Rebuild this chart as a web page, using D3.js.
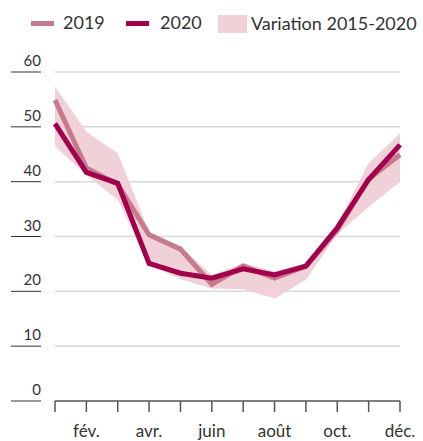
<!DOCTYPE html>
<html>
<head>
<meta charset="utf-8">
<script src="https://cdn.jsdelivr.net/npm/d3@7"></script>
<style>
  body { margin: 0; background: #fff; }
  svg { font-family: Lato, "Open Sans", sans-serif; }
</style>
</head>
<body>
<div id="chart"></div>
<script>
var months = ['janv.', 'fév.', 'mars', 'avr.', 'mai', 'juin', 'juil.', 'août', 'sept.', 'oct.', 'nov.', 'déc.'];
var values2019 = [54.9, 42.5, 39.5, 30.3, 27.7, 21.3, 24.6, 22.4, 24.6, 31.2, 40.5, 44.9];
var values2020 = [50.6, 41.7, 39.7, 25.1, 23.3, 22.4, 24.1, 23.0, 24.6, 31.6, 40.4, 46.7];
var bandHigh = [57.3, 49.1, 45.2, 30.8, 28.1, 23.0, 25.1, 23.6, 25.1, 32.2, 43.4, 48.8];
var bandLow = [46.4, 41.2, 36.7, 25.0, 22.2, 20.5, 20.4, 18.7, 22.1, 30.4, 35.4, 40.0];
var yTicks = [0, 10, 20, 30, 40, 50, 60];

var width = 423, height = 441;
var svg = d3.select('#chart').append('svg')
  .attr('width', width)
  .attr('height', height);

var x = d3.scalePoint()
  .domain(d3.range(12))
  .range([55, 400]);

var y = d3.scaleLinear()
  .domain([0, 60])
  .range([401, 72]);

// gridlines + y labels
var grid = svg.append('g');
grid.selectAll('line.grid')
  .data(yTicks.filter(function(d) { return d > 0; }))
  .enter().append('line')
    .attr('x1', 55).attr('x2', 400)
    .attr('y1', function(d) { return y(d); })
    .attr('y2', function(d) { return y(d); })
    .style('stroke', '#d9d9d9')
    .style('stroke-width', 1.5);

grid.selectAll('line.tick')
  .data(yTicks)
  .enter().append('line')
    .attr('x1', 11).attr('x2', 41)
    .attr('y1', function(d) { return y(d); })
    .attr('y2', function(d) { return y(d); })
    .style('stroke', '#333')
    .style('stroke-width', 1);

grid.selectAll('text')
  .data(yTicks)
  .enter().append('text')
    .attr('x', 41)
    .attr('y', function(d) { return y(d) - 6; })
    .attr('text-anchor', 'end')
    .style('font-size', '15px')
    .style('fill', '#333')
    .text(function(d) { return d; });

// variation band
var area = d3.area()
  .x(function(d, i) { return x(i); })
  .y0(function(d, i) { return y(bandLow[i]); })
  .y1(function(d) { return y(d); });

svg.append('path')
  .datum(bandHigh)
  .attr('d', area)
  .style('fill', '#f0d1d7');

var line = d3.line()
  .x(function(d, i) { return x(i); })
  .y(function(d) { return y(d); });

svg.append('path')
  .datum(values2019)
  .attr('d', line)
  .style('fill', 'none')
  .style('stroke', '#c87a8d')
  .style('stroke-width', 5)
  .style('stroke-linejoin', 'miter');

svg.append('path')
  .datum(values2020)
  .attr('d', line)
  .style('fill', 'none')
  .style('stroke', '#a2004c')
  .style('stroke-width', 5)
  .style('stroke-linejoin', 'miter');

// x axis
var xAxis = svg.append('g');
xAxis.append('line')
  .attr('x1', 55).attr('x2', 400)
  .attr('y1', y(0)).attr('y2', y(0))
  .style('stroke', '#555')
  .style('stroke-width', 1.5);

xAxis.selectAll('line.tick')
  .data(d3.range(12))
  .enter().append('line')
    .attr('x1', function(d) { return x(d); })
    .attr('x2', function(d) { return x(d); })
    .attr('y1', y(0)).attr('y2', y(0) + 11)
    .style('stroke', '#555')
    .style('stroke-width', 1.5);

xAxis.selectAll('text')
  .data(d3.range(12).filter(function(d) { return d % 2 === 1; }))
  .enter().append('text')
    .attr('x', function(d) { return x(d); })
    .attr('y', 437)
    .attr('text-anchor', 'middle')
    .style('font-size', '17px')
    .style('fill', '#333')
    .text(function(d) { return months[d]; });

// legend
var legend = svg.append('g');
legend.append('rect')
  .attr('x', 31).attr('y', 21).attr('width', 23).attr('height', 5)
  .style('fill', '#c87a8d');
legend.append('text')
  .attr('x', 63).attr('y', 29)
  .style('font-size', '18px').style('fill', '#333')
  .text('2019');
legend.append('rect')
  .attr('x', 126).attr('y', 21).attr('width', 23).attr('height', 5)
  .style('fill', '#a2004c');
legend.append('text')
  .attr('x', 160).attr('y', 29)
  .style('font-size', '18px').style('fill', '#333')
  .text('2020');
legend.append('rect')
  .attr('x', 218).attr('y', 15).attr('width', 29).attr('height', 18)
  .style('fill', '#f0d1d7');
legend.append('text')
  .attr('x', 251).attr('y', 30)
  .style('font-size', '18px').style('fill', '#333')
  .text('Variation 2015-2020');
</script>
</body>
</html>
